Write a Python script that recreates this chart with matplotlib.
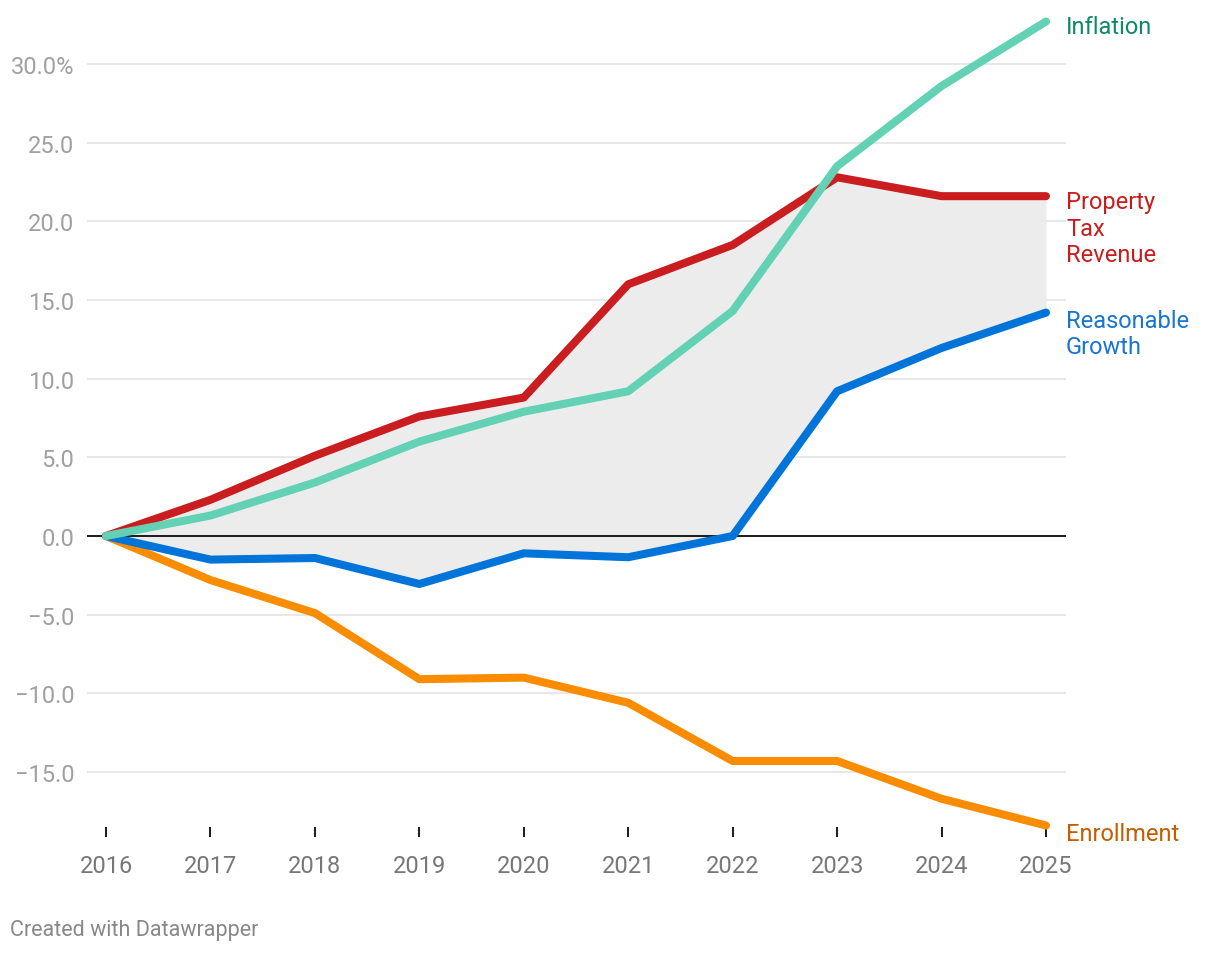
import numpy as np
import matplotlib.pyplot as plt

plt.rcParams['font.family'] = ['Roboto', 'DejaVu Sans']

years = [2016, 2017, 2018, 2019, 2020, 2021, 2022, 2023, 2024, 2025]
inflation = [0, 1.3, 3.4, 6.0, 7.9, 9.2, 14.3, 23.5, 28.6, 32.7]
property_tax = [0, 2.3, 5.1, 7.6, 8.8, 16.0, 18.5, 22.8, 21.6, 21.6]
reasonable = [0, -1.5, -1.4, -3.05, -1.1, -1.35, 0, 9.2, 11.95, 14.2]
enrollment = [0, -2.8, -4.9, -9.1, -9.0, -10.6, -14.3, -14.3, -16.7, -18.4]

yticks = [-15, -10, -5, 0, 5, 10, 15, 20, 25, 30]
ylabels = ['\u221215.0', '\u221210.0', '\u22125.0', '0.0', '5.0', '10.0', '15.0', '20.0', '25.0', '30.0%']

fig = plt.figure(figsize=(12.2, 9.54), dpi=100)
W, H = 1220, 954
ax = fig.add_axes([87/W, 1-838/H, (1066-87)/W, (838-15)/H])

pxx = 104.44
ax.set_xlim(2016 - 19/pxx, 2025 + 20/pxx)
pxy = 15.733
ax.set_ylim(-(838-537)/pxy, (537-15)/pxy)

for s in ax.spines.values():
    s.set_visible(False)

for t in yticks:
    if t == 0:
        continue
    ax.axhline(t, color='#e1e1e1', lw=1.1, zorder=1)
ax.axhline(0, color='#1a1a1a', lw=1.4, zorder=3)

ax.fill_between(years, property_tax, reasonable, color='#ececec', lw=0, zorder=2)

lw = 5.8
ax.plot(years, enrollment, color='#fa8c00', lw=lw, solid_capstyle='round', solid_joinstyle='round', zorder=4, clip_on=False)
ax.plot(years, reasonable, color='#0074d8', lw=lw, solid_capstyle='round', solid_joinstyle='round', zorder=4, clip_on=False)
ax.plot(years, inflation, color='#63d1b4', lw=lw, solid_capstyle='round', solid_joinstyle='round', zorder=5, clip_on=False)
ax.plot(years, property_tax, color='#c91d1f', lw=lw, solid_capstyle='round', solid_joinstyle='round', zorder=4, clip_on=False)

ax.set_yticks(yticks)
ax.set_yticklabels(ylabels)
ax.tick_params(axis='y', length=0, pad=9, labelsize=17, labelcolor='#a0a0a0')
ax.set_xticks(years)
ax.set_xticklabels([str(y) for y in years])
ax.tick_params(axis='x', direction='in', length=7.2, width=1.4, color='#1a1a1a', pad=12.5, labelsize=17, labelcolor='#777777')

lx = 2025 + 20/pxx
fs = 17
ax.text(lx, inflation[-1] - 0.3, 'Inflation', color='#0f8a68', fontsize=fs, va='center', ha='left', clip_on=False)
ax.text(lx, property_tax[-1] + 0.38, 'Property\nTax\nRevenue', color='#c71e1d', fontsize=fs, va='top', ha='left', linespacing=1.19, clip_on=False)
ax.text(lx, reasonable[-1] + 0.25, 'Reasonable\nGrowth', color='#1875d2', fontsize=fs, va='top', ha='left', linespacing=1.19, clip_on=False)
ax.text(lx, enrollment[-1] - 0.5, 'Enrollment', color='#c45c00', fontsize=fs, va='center', ha='left', clip_on=False)

fig.text(10/W, 1-931/H, 'Created with Datawrapper', color='#888888', fontsize=15.5, va='center', ha='left')

fig.savefig('out.png', dpi=100)
